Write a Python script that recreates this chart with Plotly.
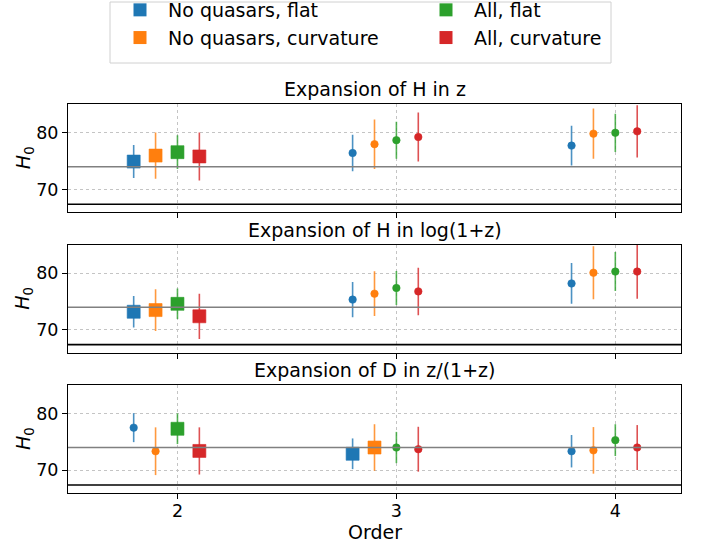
import plotly.graph_objects as go

# ---------------- data ----------------
series_names = ["No quasars, flat", "No quasars, curvature", "All, flat", "All, curvature"]
series_colors = ["#1f77b4", "#ff7f0e", "#2ca02c", "#d62728"]
series_offsets = [-0.2, -0.1, 0.0, 0.1]
orders = [2, 3, 4]

panel_titles = ["Expansion of H in z", "Expansion of H in log(1+z)", "Expansion of D in z/(1+z)"]
y_label = "<i>H</i><sub>0</sub>"
x_label = "Order"

# H0 values per panel, per series (orders 2, 3, 4)
h0_panel1 = [[74.9, 76.4, 77.7], [75.95, 77.95, 79.8], [76.55, 78.65, 79.95], [75.8, 79.2, 80.2]]
err_panel1 = [[2.9, 3.2, 3.5], [4.05, 4.35, 4.4], [2.95, 3.25, 3.35], [4.2, 4.3, 4.6]]

h0_panel2 = [[73.2, 75.35, 78.2], [73.5, 76.4, 80.1], [74.6, 77.4, 80.3], [72.4, 76.8, 80.3]]
err_panel2 = [[2.8, 3.1, 3.6], [3.7, 3.95, 4.7], [2.7, 3.0, 3.45], [4.0, 4.2, 4.8]]

h0_panel3 = [[77.5, 72.9, 73.35], [73.35, 74.0, 73.5], [77.3, 74.0, 75.3], [73.4, 73.7, 74.0]]
err_panel3 = [[2.55, 2.7, 2.85], [4.2, 4.1, 4.1], [2.7, 2.75, 2.8], [4.15, 3.95, 3.95]]

# preferred (best) order for each series -> drawn as square
best_panel1 = [[True, False, False]] * 4
best_panel2 = [[True, False, False]] * 4
best_panel3 = [[False, True, False], [False, True, False], [True, False, False], [True, False, False]]

h0_local = 74.0
h0_planck = 67.4

panels = [
    (h0_panel1, err_panel1, best_panel1),
    (h0_panel2, err_panel2, best_panel2),
    (h0_panel3, err_panel3, best_panel3),
]

# ---------------- layout geometry ----------------
W, H = 708, 544
ML, MR, MT, MB = 68, 27, 104, 51
plot_h = H - MT - MB
panel_px = [(104, 212.3), (245, 352.5), (385, 493)]


def py(pix):
    return 1 - (pix - MT) / plot_h


def px(pix):
    return (pix - ML) / (W - ML - MR)


FONT = "DejaVu Sans"


def rgba(hexc, a):
    h = hexc.lstrip("#")
    return "rgba(%d,%d,%d,%.2f)" % (int(h[0:2], 16), int(h[2:4], 16), int(h[4:6], 16), a)


fig = go.Figure()

for p, (vals, errs, best) in enumerate(panels):
    xa = "x" if p == 0 else "x%d" % (p + 1)
    ya = "y" if p == 0 else "y%d" % (p + 1)
    for s in range(4):
        xs = [o + series_offsets[s] for o in orders]
        fig.add_trace(go.Scatter(
            x=xs, y=vals[s], xaxis=xa, yaxis=ya, mode="markers",
            showlegend=False, hoverinfo="skip",
            marker=dict(
                color=series_colors[s], opacity=1,
                symbol=["square" if b else "circle" for b in best[s]],
                size=[13 if b else 7.5 for b in best[s]],
                line=dict(width=1, color=rgba(series_colors[s], 0.6)),
            ),
            error_y=dict(type="data", array=errs[s], width=0, thickness=1.6,
                         color=rgba(series_colors[s], 0.8)),
        ))

# legend-only traces (two columns using two legends)
legend_of = ["legend", "legend", "legend2", "legend2"]
for s in range(4):
    fig.add_trace(go.Scatter(
        x=[None], y=[None], mode="markers", name=series_names[s],
        legend=legend_of[s],
        marker=dict(color=series_colors[s], symbol="square", size=13, opacity=1),
    ))

layout = dict(
    width=W, height=H,
    margin=dict(l=ML, r=MR, t=MT, b=MB, autoexpand=False),
    paper_bgcolor="white", plot_bgcolor="white",
    font=dict(family=FONT, size=17.5, color="black"),
    showlegend=True,
)

for p in range(3):
    top, bot = panel_px[p]
    xk = "xaxis" if p == 0 else "xaxis%d" % (p + 1)
    yk = "yaxis" if p == 0 else "yaxis%d" % (p + 1)
    xa_name = "x" if p == 0 else "x%d" % (p + 1)
    ya_name = "y" if p == 0 else "y%d" % (p + 1)
    layout[xk] = dict(
        domain=[0, 1], anchor=ya_name, range=[1.5, 4.3],
        tickvals=orders, ticktext=[str(o) for o in orders],
        showticklabels=(p == 2),
        ticks="outside", ticklen=5, tickcolor="black",
        ticklabelstandoff=-3,
        showline=True, linecolor="black", linewidth=1, mirror=True,
        showgrid=True, gridcolor="#c4c4c4", griddash="dot", gridwidth=1,
        zeroline=False,
        tickfont=dict(size=17.5),
    )
    layout[yk] = dict(
        domain=[py(bot), py(top)], anchor=xa_name, range=[66.0, 85.0],
        tickvals=[70, 80],
        ticks="outside", ticklen=5, tickcolor="black",
        showline=True, linecolor="black", linewidth=1, mirror=True,
        showgrid=True, gridcolor="#c4c4c4", griddash="dot", gridwidth=1,
        zeroline=False,
        tickfont=dict(size=17.5),
    )

layout["legend"] = dict(
    x=px(112), y=py(-9), xanchor="left", yanchor="top",
    bgcolor="rgba(0,0,0,0)", borderwidth=0, font=dict(size=19),
    itemwidth=46, tracegroupgap=0,
)
layout["legend2"] = dict(
    x=px(418), y=py(-9), xanchor="left", yanchor="top",
    bgcolor="rgba(0,0,0,0)", borderwidth=0, font=dict(size=19),
    itemwidth=46, tracegroupgap=0,
)

fig.update_layout(**layout)

# panel titles and y labels
for p in range(3):
    top, bot = panel_px[p]
    fig.add_annotation(
        x=0.5, y=py(top), xref="paper", yref="paper", xanchor="center", yanchor="bottom",
        text=panel_titles[p], showarrow=False, font=dict(size=19), yshift=2,
    )
    fig.add_annotation(
        x=px(24), y=py((top + bot) / 2), xref="paper", yref="paper",
        xanchor="center", yanchor="middle", textangle=-90,
        text=y_label, showarrow=False, font=dict(size=19),
    )

# x label
fig.add_annotation(
    x=0.5, y=py(532), xref="paper", yref="paper", xanchor="center", yanchor="middle",
    text=x_label, showarrow=False, font=dict(size=19),
)

# reference lines
for p in range(3):
    xa = "x" if p == 0 else "x%d" % (p + 1)
    ya = "y" if p == 0 else "y%d" % (p + 1)
    fig.add_shape(type="line", xref=xa + " domain", yref=ya, x0=0, x1=1,
                  y0=h0_local, y1=h0_local, line=dict(color="#808080", width=1.6))
    fig.add_shape(type="line", xref=xa + " domain", yref=ya, x0=0, x1=1,
                  y0=h0_planck, y1=h0_planck, line=dict(color="black", width=1.6))

# legend frame
fig.add_shape(type="rect", xref="paper", yref="paper",
              x0=px(110), x1=px(611), y0=py(63), y1=py(2),
              line=dict(color="#d0d0d0", width=1), fillcolor="rgba(0,0,0,0)", layer="below")

fig.write_html("out.html")
